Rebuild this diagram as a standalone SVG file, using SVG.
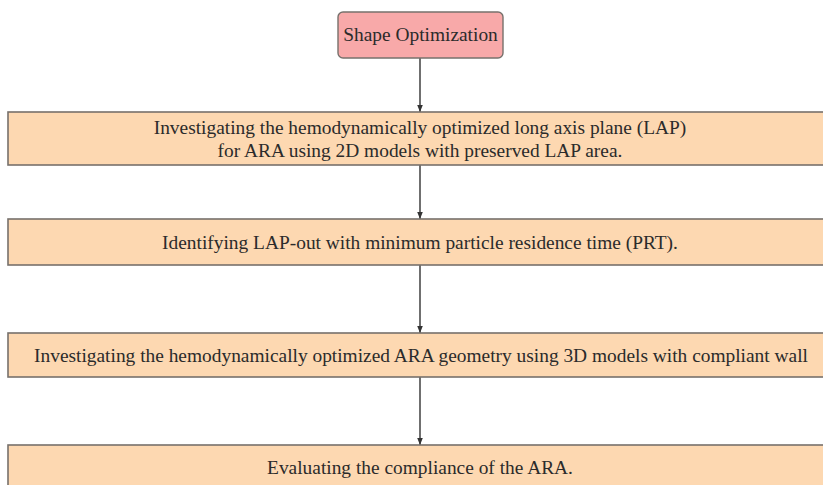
<svg xmlns="http://www.w3.org/2000/svg" width="823" height="485" viewBox="0 0 823 485">
  <style>
    .step { fill: #fdd8b1; stroke: #77716c; stroke-width: 1.6; }
    .start { fill: #f8a9a9; stroke: #77716c; stroke-width: 1.4; }
    .lbl { font-family: "Liberation Serif", "Times New Roman", serif; font-size: 19.4px; fill: #2b2b2b; text-anchor: middle; dominant-baseline: central; }
    .link { stroke: #333; stroke-width: 1.4; fill: none; marker-end: url(#head); }
  </style>
  <defs>
    <marker id="head" viewBox="0 0 10 10" refX="10" refY="5" markerWidth="7" markerHeight="7" markerUnits="userSpaceOnUse" orient="auto">
      <path d="M0,1 L10,5 L0,9 Z" fill="#333"/>
    </marker>
  </defs>
  <rect width="823" height="485" fill="#ffffff"/>

  <g id="connectors">
    <line class="link" x1="420" y1="58" x2="420" y2="112"/>
    <line class="link" x1="420" y1="165" x2="420" y2="219"/>
    <line class="link" x1="420" y1="265" x2="420" y2="333"/>
    <line class="link" x1="420" y1="377" x2="420" y2="445"/>
  </g>

  <g id="shape-optimization">
    <rect class="start" x="338" y="12" width="165" height="46" rx="5"/>
    <text class="lbl" x="420.5" y="34">Shape Optimization</text>
  </g>

  <g id="lap-study">
    <rect class="step" x="8" y="112" width="830" height="53"/>
    <text class="lbl" x="420" y="127">Investigating the hemodynamically optimized long axis plane (LAP)</text>
    <text class="lbl" x="420" y="150">for ARA using 2D models with preserved LAP area.</text>
  </g>

  <g id="lap-out">
    <rect class="step" x="8" y="219" width="830" height="46"/>
    <text class="lbl" x="420" y="242">Identifying LAP-out with minimum particle residence time (PRT).</text>
  </g>

  <g id="ara-geometry">
    <rect class="step" x="8" y="333" width="830" height="44"/>
    <text class="lbl" x="421" y="355">Investigating the hemodynamically optimized ARA geometry using 3D models with compliant wall</text>
  </g>

  <g id="compliance">
    <rect class="step" x="8" y="445" width="830" height="60"/>
    <text class="lbl" x="420" y="467">Evaluating the compliance of the ARA.</text>
  </g>
</svg>
